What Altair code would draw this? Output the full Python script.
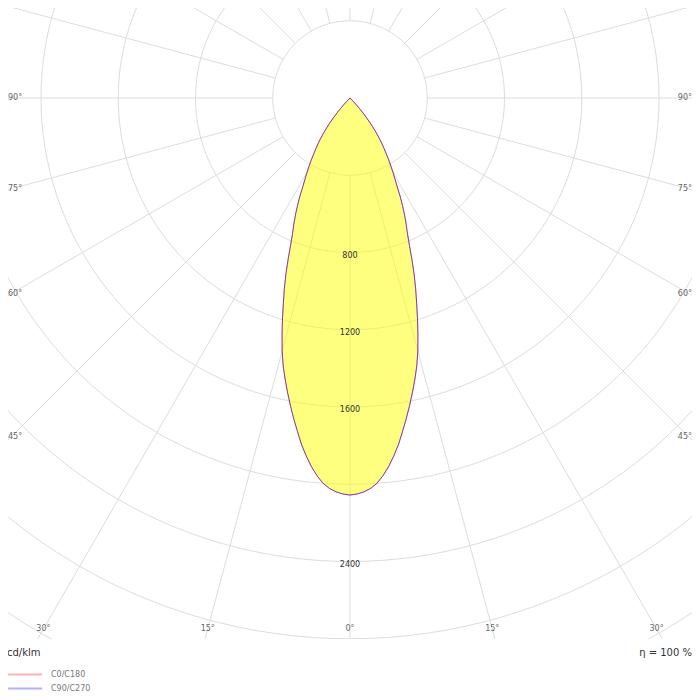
import altair as alt
import pandas as pd

# ---- data (cd/klm) ----
gamma = list(range(0, 46))  # degrees from nadir
intensity_c0_c180 = [2056, 2051, 2041, 2025, 2000, 1963, 1918, 1866, 1810, 1745,
                     1683, 1620, 1557, 1494, 1430, 1357, 1276, 1196, 1117, 1044,
                     971, 894, 821, 761, 715, 669, 621, 573, 522, 481,
                     446, 412, 379, 345, 316, 287, 258, 227, 196, 164,
                     133, 102, 72, 48, 24, 0]
intensity_c90_c270 = list(intensity_c0_c180)
planes = ["C0/C180", "C90/C270"]
plane_colors = ["#ff0000", "#0000ff"]

radii = [400, 800, 1200, 1600, 2000, 2400, 2800, 3200]
radial_labels = [800, 1200, 1600, 2400]
ray_angles = list(range(0, 360, 15))
side_angles = [45, 60, 75, 90]
bottom_angles = [-30, -15, 0, 15, 30]
unit_text = "cd/klm"
efficiency_text = "η = 100 %"

# ---- layout constants (pixels) ----
W, H = 684, 631
CX, CY = 342, 90            # pole position inside the plot area
PX = 77.25 / 400            # pixels per cd/klm
FONT = "DejaVu Sans"

x_dom = [-CX / PX, (W - CX) / PX]
y_dom = [-(H - CY) / PX, CY / PX]
xs = alt.Scale(domain=x_dom, nice=False, zero=False)
ys = alt.Scale(domain=y_dom, nice=False, zero=False)

def X(f):
    return alt.X(f, type="quantitative", scale=xs, axis=None)

def Y(f):
    return alt.Y(f, type="quantitative", scale=ys, axis=None)

GRID = "#dcdcdc"

circles = (
    alt.Chart(pd.DataFrame({"r": radii}))
    .transform_calculate(a="sequence(0, 362, 2)")
    .transform_flatten(["a"])
    .transform_calculate(
        x="datum.r * sin(datum.a * PI / 180)",
        y="-datum.r * cos(datum.a * PI / 180)",
    )
    .mark_line(clip=True, stroke=GRID, strokeWidth=1)
    .encode(x=X("x"), y=Y("y"), detail="r:N", order="a:Q")
)

rays = (
    alt.Chart(pd.DataFrame({"a": ray_angles}))
    .transform_calculate(
        x="400 * sin(datum.a * PI / 180)",
        y="-400 * cos(datum.a * PI / 180)",
        x2="5000 * sin(datum.a * PI / 180)",
        y2="-5000 * cos(datum.a * PI / 180)",
    )
    .mark_rule(clip=True, stroke=GRID, strokeWidth=1)
    .encode(x=X("x"), y=Y("y"), x2="x2:Q", y2="y2:Q")
)

half = pd.DataFrame({"g": gamma, "I": intensity_c0_c180})
fill = (
    alt.Chart(half)
    .transform_calculate(
        xl="-datum.I * sin(datum.g * PI / 180)",
        xr="datum.I * sin(datum.g * PI / 180)",
        y="-datum.I * cos(datum.g * PI / 180)",
    )
    .mark_area(orient="horizontal", color="#ffff00", opacity=0.5)
    .encode(x=X("xl"), x2="xr:Q", y=Y("y"))
)

rows = []
for plane, vals in zip(planes, [intensity_c0_c180, intensity_c90_c270]):
    for g, v in zip(reversed(gamma[1:]), reversed(vals[1:])):
        rows.append({"plane": plane, "g": -g, "I": v})
    for g, v in zip(gamma, vals):
        rows.append({"plane": plane, "g": g, "I": v})
curve_df = pd.DataFrame(rows)

outline = (
    alt.Chart(curve_df)
    .transform_calculate(
        x="datum.I * sin(datum.g * PI / 180)",
        y="-datum.I * cos(datum.g * PI / 180)",
    )
    .mark_line(strokeWidth=1, opacity=0.5)
    .encode(
        x=X("x"),
        y=Y("y"),
        order="g:Q",
        detail="plane:N",
        color=alt.Color(
            "plane:N",
            scale=alt.Scale(domain=planes, range=plane_colors),
            legend=alt.Legend(
                orient="none", legendX=-1, legendY=640, padding=0,
                title=unit_text, titleFont=FONT, titleFontSize=10,
                titleFontWeight="normal", titleColor="#333", titlePadding=12,
                labelFont=FONT, labelFontSize=8, labelColor="#777",
                symbolType="M-1,0H9", symbolSize=46, symbolStrokeWidth=2,
                symbolOpacity=0.3, labelOffset=35, rowPadding=5,
            ),
        ),
    )
)

rlabels = (
    alt.Chart(pd.DataFrame({"v": radial_labels}))
    .transform_calculate(x="0", y="-datum.v")
    .mark_text(font=FONT, fontSize=8, color="#333", baseline="middle", dy=3)
    .encode(x=X("x"), y=Y("y"), text="v:Q")
)

SIDE_OFF = (CX - 3) / PX
side_df = pd.DataFrame({"a": side_angles, "t": [f"{a}°" for a in side_angles]})
left_labels = (
    alt.Chart(side_df)
    .transform_calculate(
        x=f"{x_dom[0]}",
        y=f"-{SIDE_OFF} * cos(datum.a * PI / 180) / sin(datum.a * PI / 180)",
    )
    .mark_text(font=FONT, fontSize=8, color="#666", align="left", baseline="middle")
    .encode(x=X("x"), y=Y("y"), text="t:N")
)
right_labels = (
    alt.Chart(side_df)
    .transform_calculate(
        x=f"{x_dom[1]}",
        y=f"-{SIDE_OFF} * cos(datum.a * PI / 180) / sin(datum.a * PI / 180)",
    )
    .mark_text(font=FONT, fontSize=8, color="#666", align="right", baseline="middle")
    .encode(x=X("x"), y=Y("y"), text="t:N")
)

BOTTOM_OFF = (621 - CY) / PX
bottom_df = pd.DataFrame({"a": bottom_angles, "t": [f"{abs(a)}°" for a in bottom_angles]})
bottom_labels = (
    alt.Chart(bottom_df)
    .transform_calculate(
        x=f"{BOTTOM_OFF} * tan(datum.a * PI / 180)",
        y=f"-{BOTTOM_OFF}",
    )
    .mark_text(font=FONT, fontSize=8, color="#666", align="center", baseline="middle")
    .encode(x=X("x"), y=Y("y"), text="t:N")
)

eta = (
    alt.Chart(pd.DataFrame({"t": [efficiency_text]}))
    .transform_calculate(x=f"{x_dom[1]}", y=f"-{(645 - CY) / PX}")
    .mark_text(font=FONT, fontSize=10, color="#333", align="right", baseline="middle")
    .encode(x=X("x"), y=Y("y"), text="t:N")
)

chart = (
    alt.layer(circles, rays, fill, outline, rlabels, left_labels, right_labels,
              bottom_labels, eta)
    .properties(
        width=W, height=H,
        autosize=alt.AutoSizeParams(type="none"),
        padding={"left": 0, "top": 0, "right": 0, "bottom": 61},
        background="white",
    )
    .configure_view(stroke=None)
)

chart.save("out.html", embed_options={"renderer": "svg", "actions": False})
